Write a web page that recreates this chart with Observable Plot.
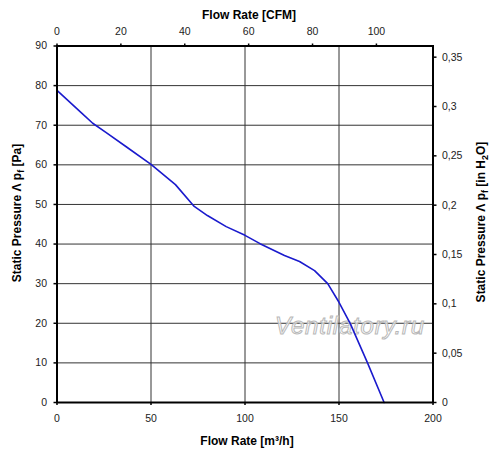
<!DOCTYPE html>
<html>
<head>
<meta charset="utf-8">
<script src="https://cdn.jsdelivr.net/npm/d3@7"></script>
<script src="https://cdn.jsdelivr.net/npm/@observablehq/plot@0.6"></script>
<style>
  html, body { margin: 0; padding: 0; background: white; }
</style>
</head>
<body>
<div id="chart"></div>
<script>
// Data
const flow =     [0,    13,   19,   26,   37,   50,   63,   73,   80,   90,   100,  108,  121,  129,  137,  144,  150,  156,  165,  174];
const pressure = [78.8, 73.1, 70.5, 68.2, 64.5, 60.1, 55.0, 49.5, 47.2, 44.4, 42.2, 40.1, 37.1, 35.6, 33.3, 30.0, 25.3, 19.9, 10.2, 0];

const xTicks = [0, 50, 100, 150, 200];
const yTicks = [0, 10, 20, 30, 40, 50, 60, 70, 80, 90];
const xGrid = [50, 100, 150];
const yGrid = [10, 20, 30, 40, 50, 60, 70, 80];
const cfmTicks = [0, 20, 40, 60, 80, 100];
const inH2OTicks = [0, 0.05, 0.1, 0.15, 0.2, 0.25, 0.3, 0.35];

const CFM = 1.699;     // m3/h per CFM
const PA = 249.089;    // Pa per inH2O

const data = flow.map((f, i) => ({flow: f, pressure: pressure[i]}));

const font = "'Liberation Sans', Arial, sans-serif";

const svg = Plot.plot({
  width: 500,
  height: 459,
  marginLeft: 56.5,
  marginRight: 67.5,
  marginTop: 45.5,
  marginBottom: 57,
  x: {domain: [0, 200]},
  y: {domain: [0, 90]},
  style: {fontFamily: font, fontSize: "10.5px", color: "#222", background: "white", overflow: "visible"},
  marks: [
    Plot.gridY(yGrid, {stroke: "#333", strokeOpacity: 1, strokeWidth: 1}),
    Plot.gridX(xGrid, {stroke: "#333", strokeOpacity: 1, strokeWidth: 1}),
    Plot.axisX(xTicks, {anchor: "bottom", tickSize: 3, tickPadding: 9, label: null, stroke: "black", strokeWidth: 1.5}),
    Plot.axisX(cfmTicks.map(c => c * CFM), {anchor: "top", tickSize: 3, tickPadding: 8, label: null, stroke: "black", strokeWidth: 1.5,
      tickFormat: d => String(Math.round(d / CFM))}),
    Plot.axisY(yTicks, {anchor: "left", tickSize: 3, tickPadding: 7, label: null, stroke: "black", strokeWidth: 1.5}),
    Plot.axisY(inH2OTicks.map(v => v * PA), {anchor: "right", tickSize: 3, tickPadding: 6, label: null, stroke: "black", strokeWidth: 1.5,
      tickFormat: d => String(Math.round(d / PA * 100) / 100).replace(".", ",")}),
    Plot.line(data, {x: "flow", y: "pressure", stroke: "#1a1acd", strokeWidth: 1.6}),
    Plot.frame({stroke: "black", strokeWidth: 2})
  ]
});

document.getElementById("chart").appendChild(svg);

const s = d3.select(svg);

// Watermark (beneath the curve)
const lineNode = svg.querySelector("g[aria-label='line']");
const wm = document.createElementNS("http://www.w3.org/2000/svg", "text");
svg.insertBefore(wm, lineNode);
d3.select(wm)
  .attr("x", 275).attr("y", 334)
  .attr("text-anchor", "start")
  .attr("font-family", font)
  .attr("font-size", 24)
  .attr("font-style", "italic")
  .attr("letter-spacing", 0.8)
  .attr("fill", "white")
  .attr("fill-opacity", 0.7)
  .attr("stroke", "#b8b8b8")
  .attr("stroke-width", 1)
  .text("Ventilatory.ru");

// Titles
const title = (x, y, rot) => {
  const t = s.append("text")
    .attr("font-family", font)
    .attr("font-size", 12)
    .attr("font-weight", "bold")
    .attr("fill", "black")
    .attr("text-anchor", "middle")
    .attr("transform", `translate(${x},${y}) rotate(${rot})`);
  return t;
};

title(249, 19, 0).text("Flow Rate [CFM]");

const b = title(247, 445, 0);
b.append("tspan").text("Flow Rate [m³/h]");

const l = title(21, 213, -90);
l.append("tspan").text("Static Pressure Λ p");
l.append("tspan").attr("font-size", 9).attr("dy", 3).text("f");
l.append("tspan").attr("dy", -3).text(" [Pa]");

const r = title(485, 222, -90);
r.append("tspan").text("Static Pressure Λ p");
r.append("tspan").attr("font-size", 9).attr("dy", 3).text("f");
r.append("tspan").attr("dy", -3).text(" [in H");
r.append("tspan").attr("font-size", 9).attr("dy", 3).text("2");
r.append("tspan").attr("dy", -3).text("O]");
</script>
</body>
</html>
